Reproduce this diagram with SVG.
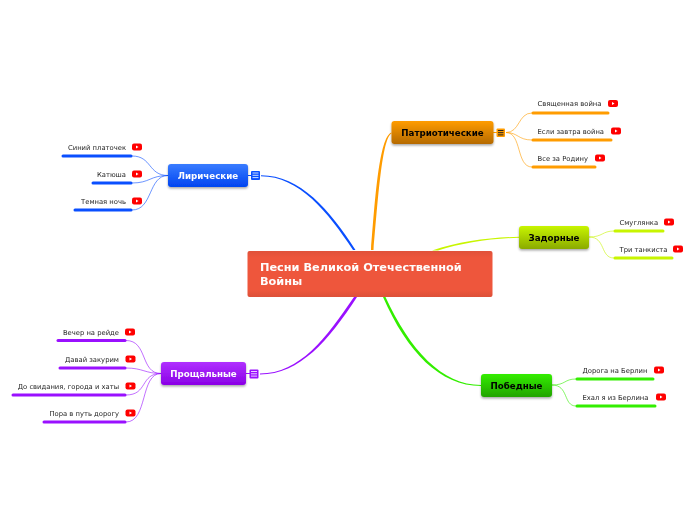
<svg xmlns="http://www.w3.org/2000/svg" width="696" height="520" viewBox="0 0 696 520">
<style>
text{font-family:"DejaVu Sans",Verdana,sans-serif;opacity:.99}
.leaf{font-size:6.8px;fill:#222}
.end{text-anchor:end}
.topic{font-size:8.7px;font-weight:bold;text-anchor:middle}
.root{font-size:11.3px;font-weight:bold;fill:#fff}
.thin{fill:none;stroke-width:1;opacity:.6}
.bar{stroke-width:3;stroke-linecap:round;fill:none}
.o{stroke:#ff9c00}.y{stroke:#c8f500}.g{stroke:#33ee00}.b{stroke:#0a4fff}.p{stroke:#9a10ff}
.box{filter:url(#sh)}
.hl{stroke-width:1;fill:none}
</style>
<defs>
<filter id="sh" x="-10%" y="-20%" width="120%" height="150%"><feDropShadow dx="0" dy="1.500" stdDeviation="1.200" flood-color="#000" flood-opacity=".35"/></filter>
<linearGradient id="go" x1="0" y1="0" x2="0" y2="1"><stop offset="0" stop-color="#ff9c00"/><stop offset="1" stop-color="#b56a00"/></linearGradient>
<linearGradient id="gy" x1="0" y1="0" x2="0" y2="1"><stop offset="0" stop-color="#c8f500"/><stop offset="1" stop-color="#8aaa00"/></linearGradient>
<linearGradient id="gg" x1="0" y1="0" x2="0" y2="1"><stop offset="0" stop-color="#33ee00"/><stop offset="1" stop-color="#22a300"/></linearGradient>
<linearGradient id="gb" x1="0" y1="0" x2="0" y2="1"><stop offset="0" stop-color="#3a7cff"/><stop offset="1" stop-color="#0044f0"/></linearGradient>
<linearGradient id="gp" x1="0" y1="0" x2="0" y2="1"><stop offset="0" stop-color="#b030ff"/><stop offset="1" stop-color="#8a00e6"/></linearGradient>
<linearGradient id="gr" x1="0" y1="0" x2="0" y2="1"><stop offset="0" stop-color="#e0523a"/><stop offset=".15" stop-color="#ee563c"/><stop offset=".85" stop-color="#ee563c"/><stop offset="1" stop-color="#dc5038"/></linearGradient>
<g id="yt"><rect x="-5" y="-3.500" width="10" height="7" rx="2" fill="#f00"/><path d="M-1,-1.500L1.500,0L-1,1.500Z" fill="#fff"/></g>
</defs>
<g id="connectors">
<path d="M261,175.300C300,175.300 330,210 355.500,250L353,250C328,212 299,176.300 261,176.300Z" fill="#0a4fff"/>
<path d="M391.500,132.500C379,137 375,200 371,250L373.500,250C378,200 382,138 391.500,133.500Z" fill="#ff9c00"/>
<path d="M519,236.700C490,237.500 460,241 432,250.500L438,250.500C462,243 490,238.500 519,237.700Z" fill="#c8f500"/>
<path d="M481,385C442,385 410,350 385.500,297L383,297C407,352 440,386 481,386Z" fill="#33ee00"/>
<path d="M260,373.500C300,373.500 326,338 354,297L357,297C329,340 300,374.500 260,374.500Z" fill="#9a10ff"/>
<path class="b" d="M248,175.500H256" stroke-width="1"/>
<path class="o" d="M493,132.500H501" stroke-width="1"/>
<path class="p" d="M246,373.500H254" stroke-width="1"/>
<path class="thin o" d="M506,132.500C520,132.500 518,113 532,113"/>
<path class="thin o" d="M506,132.500C518,132.500 518,140 532,140"/>
<path class="thin o" d="M506,132.500C522,132.500 516,167 532,167"/>
<path class="thin y" d="M589,237C603,237 602,231 614,231"/>
<path class="thin y" d="M589,237C606,237 600,258 614,258"/>
<path class="thin g" d="M552,385C566,385 564,379 576,379"/>
<path class="thin g" d="M552,385C569,385 563,406 576,406"/>
<path class="thin b" d="M168,175.500C148,175.500 152,156 132,156"/>
<path class="thin b" d="M168,175.500C150,175.500 150,183 132,183"/>
<path class="thin b" d="M168,175.500C148,175.500 153,210 132,210"/>
<path class="thin p" d="M161,373.500C140,373.500 148,340.500 126,340.500"/>
<path class="thin p" d="M161,373.500C145,373.500 143,368 126,368"/>
<path class="thin p" d="M161,373.500C140,373.500 148,395 126,395"/>
<path class="thin p" d="M161,373.500C140,373.500 148,422 126,422"/>
</g>
<g id="root"><rect x="247.500" y="251" width="245" height="46" rx="2" fill="url(#gr)"/><text class="root" x="260" y="271">Песни Великой Отечественной</text><text class="root" x="260" y="285">Войны</text></g>
<g id="patriotic"><rect class="box" x="391.500" y="121" width="102" height="23" rx="3" fill="url(#go)"/><text class="topic" x="442.500" y="136">Патриотические</text><rect x="496.500" y="128.500" width="8.500" height="8.500" rx="1" fill="#ff9c00"/><path class="hl" stroke="#222" d="M498,130.500h5.500M498,132.700h5.500M498,134.900h5.500"/></g>
<g id="zadornye"><rect class="box" x="519" y="226" width="70" height="23" rx="3" fill="url(#gy)"/><text class="topic" x="554" y="241">Задорные</text></g>
<g id="pobednye"><rect class="box" x="481" y="374" width="71" height="23" rx="3" fill="url(#gg)"/><text class="topic" x="516.500" y="389">Победные</text></g>
<g id="lyric"><rect class="box" x="168" y="164" width="80" height="23" rx="3" fill="url(#gb)"/><text class="topic" x="208" y="179" fill="#fff">Лирические</text><rect x="251" y="171" width="9" height="9" rx="1" fill="#0a4fff"/><path class="hl" stroke="#cfe0ff" d="M252.500,173h6M252.500,175.300h6M252.500,177.600h6"/></g>
<g id="farewell"><rect class="box" x="161" y="362" width="85" height="23" rx="3" fill="url(#gp)"/><text class="topic" x="203.500" y="377" fill="#fff">Прощальные</text><rect x="249.500" y="369.500" width="9" height="9" rx="1" fill="#9a10ff"/><path class="hl" stroke="#ecd0ff" d="M251,371.500h6M251,373.800h6M251,376.100h6"/></g>
<g id="l1"><path class="bar o" d="M533,113H608"/><text class="leaf" x="537.500" y="106">Священная война</text><use href="#yt" x="613" y="103.500"/></g>
<g id="l2"><path class="bar o" d="M533,140H611"/><text class="leaf" x="537.500" y="134">Если завтра война</text><use href="#yt" x="616" y="131"/></g>
<g id="l3"><path class="bar o" d="M533,167H595"/><text class="leaf" x="537.500" y="161">Все за Родину</text><use href="#yt" x="600" y="158"/></g>
<g id="l4"><path class="bar y" d="M615,231H663"/><text class="leaf" x="619.500" y="225">Смуглянка</text><use href="#yt" x="669" y="222"/></g>
<g id="l5"><path class="bar y" d="M615,258H672"/><text class="leaf" x="619.500" y="252">Три танкиста</text><use href="#yt" x="678" y="249"/></g>
<g id="l6"><path class="bar g" d="M577,379H653"/><text class="leaf" x="582.500" y="373">Дорога на Берлин</text><use href="#yt" x="659" y="370"/></g>
<g id="l7"><path class="bar g" d="M577,406H655"/><text class="leaf" x="582.500" y="400">Ехал я из Берлина</text><use href="#yt" x="661" y="397"/></g>
<g id="l8"><path class="bar b" d="M63,156H131"/><text class="leaf end" x="126" y="150">Синий платочек</text><use href="#yt" x="137" y="147"/></g>
<g id="l9"><path class="bar b" d="M93,183H131"/><text class="leaf end" x="126" y="177">Катюша</text><use href="#yt" x="137" y="174"/></g>
<g id="l10"><path class="bar b" d="M75,210H131"/><text class="leaf end" x="126" y="204">Темная ночь</text><use href="#yt" x="137" y="201"/></g>
<g id="l11"><path class="bar p" d="M58,340.500H125"/><text class="leaf end" x="119" y="334.500">Вечер на рейде</text><use href="#yt" x="130" y="332"/></g>
<g id="l12"><path class="bar p" d="M60,368H125"/><text class="leaf end" x="119" y="361.500">Давай закурим</text><use href="#yt" x="130.500" y="359"/></g>
<g id="l13"><path class="bar p" d="M13,395H125"/><text class="leaf end" x="119" y="388.500">До свидания, города и хаты</text><use href="#yt" x="130.500" y="386"/></g>
<g id="l14"><path class="bar p" d="M44,422H125"/><text class="leaf end" x="119" y="416">Пора в путь дорогу</text><use href="#yt" x="130.500" y="413"/></g>
</svg>
